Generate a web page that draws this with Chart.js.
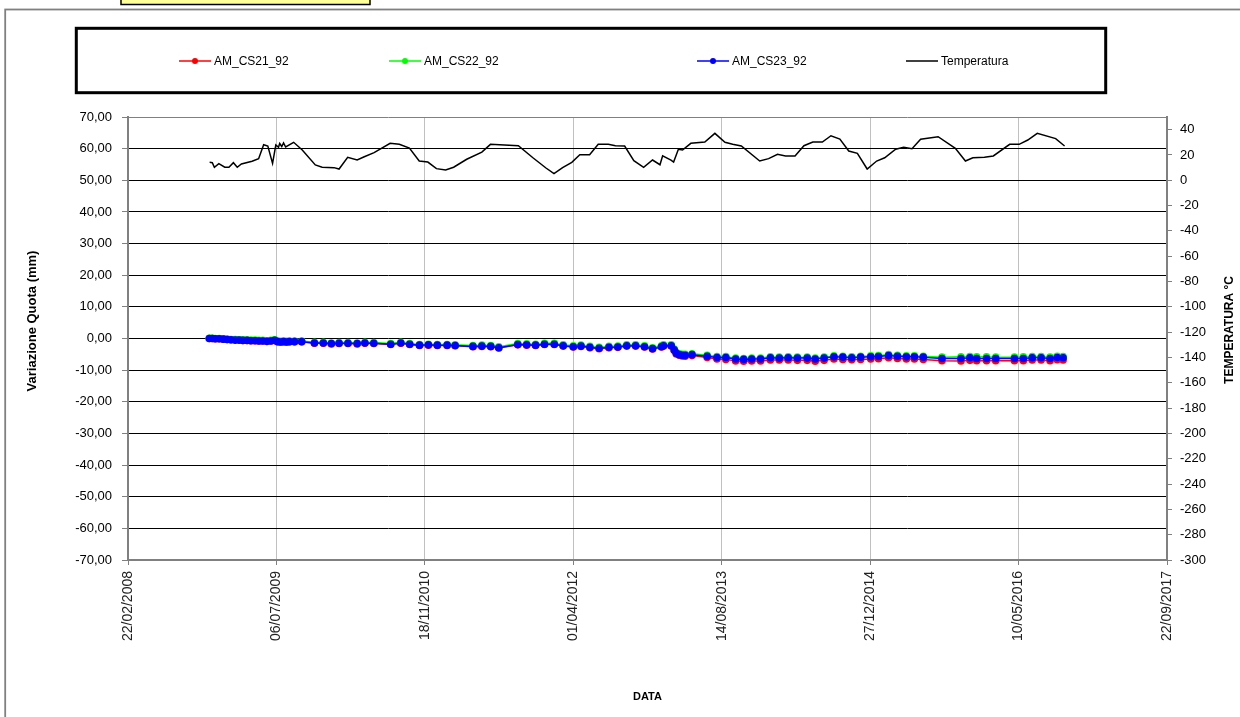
<!DOCTYPE html>
<html>
<head>
<meta charset="utf-8">
<script src="https://cdn.jsdelivr.net/npm/chart.js@4.4.1/dist/chart.umd.min.js"></script>
<style>
  html, body { margin: 0; padding: 0; background: #fff; overflow: hidden; }
  #wrap { width: 1240px; height: 717px; position: relative; }
</style>
</head>
<body>
<div id="wrap"><canvas id="chart"></canvas></div>
<script>
// dates are Excel serial days (39500 = 22/02/2008)
const surveyDays = [
  39774, 39784, 39794, 39807, 39821, 39834, 39847, 39861, 39874, 39887, 39901, 39914, 39928,
  39941, 39954, 39968, 39981, 39994, 40004, 40014, 40024, 40034, 40044, 40061, 40085,
  40128, 40158, 40185, 40211, 40241, 40272, 40298, 40328, 40385, 40419, 40449, 40482, 40512,
  40542, 40575, 40602, 40662, 40692, 40722, 40749, 40813, 40843, 40873, 40903, 40936, 40966,
  41000, 41026, 41056, 41087, 41120, 41150, 41180, 41210, 41240, 41267, 41297, 41304, 41330,
  41340, 41347, 41357, 41367, 41377, 41400, 41451, 41484, 41514, 41547, 41574, 41601, 41631,
  41664, 41694, 41724, 41755, 41788, 41815, 41845, 41878, 41908, 41938, 41968, 42002, 42028,
  42062, 42092, 42122, 42149, 42179, 42242, 42306, 42336, 42359, 42392, 42423, 42486, 42516,
  42546, 42576, 42606, 42630, 42650
];

const cs21 = [
  0, 0, -0.1, -0.1, -0.2, -0.3, -0.4, -0.5, -0.5, -0.6, -0.6, -0.7, -0.7, -0.8, -0.8, -0.9, -0.8,
  -0.6, -1.0, -1.1, -1.0, -1.1, -1.0, -1.0, -1.0,
  -1.5, -1.5, -1.7, -1.6, -1.6, -1.7, -1.5, -1.6, -1.9, -1.5, -1.9, -2.2, -2.1, -2.2, -2.2, -2.3,
  -2.6, -2.5, -2.6, -3.0, -2.0, -2.1, -2.2, -1.9, -1.9, -2.4, -2.7, -2.5, -2.9, -3.2,
  -2.9, -2.8, -2.4, -2.4, -2.7, -3.3, -2.7, -2.4, -2.4, -3.8, -4.9, -5.3, -5.5, -5.6, -5.4, -6.0,
  -6.5, -6.6, -7.1, -7.2, -7.1, -7.1, -6.8, -6.8, -6.8, -6.9, -6.9, -7.2, -6.9, -6.5,
  -6.6, -6.7, -6.6, -6.5, -6.4, -6.1, -6.3, -6.5, -6.5, -6.6, -7.0, -7.1, -6.9, -7.0, -7.0, -7.0,
  -7.0, -7.0, -6.8, -6.8, -7.0, -6.7, -6.8
];

const cs22 = [
  0.1, 0.1, 0, 0, -0.1, -0.2, -0.3, -0.3, -0.4, -0.4, -0.5, -0.5, -0.5, -0.6, -0.6, -0.7, -0.6,
  -0.4, -0.8, -0.9, -0.8, -0.9, -0.8, -0.8, -0.8,
  -1.2, -1.2, -1.4, -1.3, -1.3, -1.4, -1.2, -1.3, -1.6, -1.2, -1.6, -1.9, -1.8, -1.9, -1.9, -2.0,
  -2.2, -2.1, -2.2, -2.6, -1.6, -1.7, -1.8, -1.5, -1.5, -2.0, -2.3, -2.1, -2.5, -2.8,
  -2.5, -2.4, -2.0, -2.0, -2.3, -2.9, -2.3, -2.0, -2.0, -3.3, -4.4, -4.8, -5.0, -5.0, -4.8, -5.3,
  -5.7, -5.7, -6.2, -6.3, -6.2, -6.2, -5.8, -5.9, -5.8, -5.9, -5.9, -6.2, -5.9, -5.5,
  -5.6, -5.8, -5.6, -5.5, -5.4, -5.1, -5.3, -5.5, -5.5, -5.6, -5.9, -5.8, -5.7, -5.8, -5.8, -5.9,
  -5.9, -5.8, -5.7, -5.7, -5.9, -5.6, -5.7
];

const cs23 = [
  0, 0, -0.1, -0.1, -0.2, -0.3, -0.4, -0.5, -0.5, -0.6, -0.6, -0.7, -0.7, -0.8, -0.8, -0.9, -0.8,
  -0.6, -1.0, -1.1, -1.0, -1.1, -1.0, -1.0, -1.0,
  -1.4, -1.4, -1.6, -1.5, -1.5, -1.6, -1.4, -1.5, -1.8, -1.4, -1.8, -2.1, -2.0, -2.1, -2.1, -2.2,
  -2.5, -2.4, -2.5, -2.9, -1.9, -2.0, -2.1, -1.8, -1.8, -2.3, -2.6, -2.4, -2.8, -3.1,
  -2.8, -2.7, -2.3, -2.3, -2.6, -3.2, -2.6, -2.3, -2.3, -3.6, -4.7, -5.1, -5.3, -5.3, -5.1, -5.6,
  -6.0, -6.0, -6.5, -6.6, -6.5, -6.5, -6.1, -6.2, -6.1, -6.2, -6.2, -6.5, -6.2, -5.8,
  -5.9, -6.1, -5.9, -5.8, -5.7, -5.4, -5.6, -5.8, -5.8, -5.9, -6.3, -6.3, -6.1, -6.3, -6.3, -6.3,
  -6.3, -6.3, -6.1, -6.1, -6.3, -6.0, -6.1
];

const tempDays = [
  39775, 39784, 39791, 39806, 39826, 39840, 39855, 39868, 39882, 39918, 39940, 39957, 39971,
  39987, 39998, 40007, 40011, 40018, 40024, 40031, 40058, 40087, 40131, 40154, 40194, 40211,
  40240, 40272, 40296, 40329, 40383, 40414, 40448, 40481, 40510, 40539, 40570, 40597, 40641,
  40692, 40721, 40815, 40864, 40908, 40935, 40964, 40995, 41022, 41055, 41084, 41118, 41142,
  41173, 41204, 41237, 41267, 41292, 41301, 41329, 41338, 41354, 41368, 41396, 41443, 41477,
  41511, 41537, 41566, 41628, 41658, 41688, 41715, 41747, 41777, 41807, 41839, 41868, 41898,
  41928, 41957, 41990, 42022, 42049, 42086, 42113, 42141, 42170, 42229, 42287, 42321, 42346,
  42385, 42415, 42470, 42502, 42531, 42563, 42625, 42655
];

const tempValues = [
  14.2, 13.9, 10.3, 13.1, 10.3, 10.3, 13.9, 10.3, 12.9, 15.0, 17.1, 28.1, 27.1,
  13.4, 27.9, 26.1, 29.1, 26.7, 29.5, 26.3, 30.0, 23.9, 12.1, 10.3, 10.0, 8.9,
  18.2, 16.0, 18.6, 21.8, 29.2, 28.4, 25.5, 15.2, 14.4, 9.2, 8.1, 10.3, 16.6,
  22.3, 28.4, 27.3, 17.8, 9.7, 5.2, 10.0, 14.2, 20.2, 20.2, 28.4, 28.4, 27.3,
  27.1, 15.5, 10.3, 16.0, 12.3, 19.4, 16.0, 14.4, 24.5, 23.9, 29.2, 30.2, 37.1,
  30.0, 28.4, 27.1, 15.2, 17.1, 20.5, 19.2, 19.2, 27.3, 30.2, 30.2, 35.2, 32.6,
  23.1, 21.3, 8.9, 15.2, 17.8, 24.5, 26.1, 25.0, 32.4, 34.4, 25.3, 15.2, 17.8,
  18.2, 19.2, 28.4, 28.4, 31.8, 37.1, 32.9, 27.1
];

const seriesNames = ["AM_CS21_92", "AM_CS22_92", "AM_CS23_92", "Temperatura"];
const seriesColors = ["#ff0000", "#00ff00", "#0000ff", "#000000"];

const FONT = "'Liberation Sans', Arial, sans-serif";

function pairs(days, vals) {
  return days.map((d, i) => ({ x: d, y: vals[i] }));
}

function serialToDate(v) {
  const d = new Date(Date.UTC(1899, 11, 30) + Math.round(v) * 86400000);
  const dd = String(d.getUTCDate()).padStart(2, "0");
  const mm = String(d.getUTCMonth() + 1).padStart(2, "0");
  return dd + "/" + mm + "/" + d.getUTCFullYear();
}

function seriesDataset(i, vals, order) {
  return {
    label: seriesNames[i],
    data: pairs(surveyDays, vals),
    borderColor: seriesColors[i],
    backgroundColor: seriesColors[i],
    borderWidth: 1.5,
    pointRadius: 3.8,
    pointBorderWidth: 0,
    pointHoverRadius: 3.8,
    yAxisID: "y",
    order: order
  };
}

// legend box, frame and the yellow note box
const framePlugin = {
  id: "frame",
  beforeDraw(chart) {
    const ctx = chart.ctx;
    ctx.save();
    ctx.fillStyle = "#fff";
    ctx.fillRect(0, 0, chart.width, chart.height);

    ctx.strokeStyle = "#808080";
    ctx.lineWidth = 1.8;
    ctx.strokeRect(5.2, 9.5, chart.width + 20, chart.height + 20);

    ctx.fillStyle = "#ffff99";
    ctx.fillRect(120, -5, 250, 10);
    ctx.strokeStyle = "#000";
    ctx.lineWidth = 1.5;
    ctx.strokeRect(121, -5, 249, 9.5);

    ctx.fillStyle = "#fff";
    ctx.fillRect(76.3, 28.3, 1029.4, 64.4);
    ctx.lineWidth = 3;
    ctx.strokeRect(76.3, 28.3, 1029.4, 64.4);

    const starts = [179, 389, 697, 906];
    ctx.font = "12px " + FONT;
    ctx.textBaseline = "middle";
    chart.data.datasets.forEach((ds, i) => {
      const x0 = starts[i], y = 61;
      ctx.strokeStyle = ds.borderColor;
      ctx.lineWidth = 1.5;
      ctx.beginPath();
      ctx.moveTo(x0, y);
      ctx.lineTo(x0 + 32, y);
      ctx.stroke();
      if (ds.pointRadius > 0) {
        ctx.fillStyle = ds.borderColor;
        ctx.beginPath();
        ctx.arc(x0 + 16, y, 3, 0, Math.PI * 2);
        ctx.fill();
      }
      ctx.fillStyle = "#000";
      ctx.textAlign = "left";
      ctx.fillText(ds.label, x0 + 35, y + 1);
    });
    ctx.restore();
  },
  afterDraw(chart) {
    const ctx = chart.ctx;
    ctx.save();
    ctx.fillStyle = "#000";
    ctx.textAlign = "center";
    ctx.textBaseline = "middle";

    ctx.font = "bold 13px " + FONT;
    ctx.translate(32, 321);
    ctx.rotate(-Math.PI / 2);
    ctx.fillText("Variazione Quota (mm)", 0, 0);
    ctx.setTransform(1, 0, 0, 1, 0, 0);

    ctx.font = "bold 12px " + FONT;
    ctx.translate(1230, 330);
    ctx.rotate(-Math.PI / 2);
    ctx.fillText("TEMPERATURA °C", 0, 0);
    ctx.setTransform(1, 0, 0, 1, 0, 0);

    ctx.font = "bold 11px " + FONT;
    ctx.fillText("DATA", (chart.chartArea.left + chart.chartArea.right) / 2, 697);
    ctx.restore();
  }
};

new Chart(document.getElementById("chart"), {
  type: "line",
  data: {
    datasets: [
      seriesDataset(0, cs21, 4),
      seriesDataset(1, cs22, 3),
      seriesDataset(2, cs23, 2),
      {
        label: seriesNames[3],
        data: pairs(tempDays, tempValues),
        borderColor: seriesColors[3],
        backgroundColor: seriesColors[3],
        borderWidth: 1.5,
        pointRadius: 0,
        yAxisID: "y2",
        order: 1
      }
    ]
  },
  options: {
    responsive: true,
    maintainAspectRatio: false,
    animation: false,
    events: [],
    layout: { padding: { top: 117, left: 0, right: 0, bottom: 0 } },
    plugins: { legend: { display: false }, tooltip: { enabled: false } },
    elements: { line: { tension: 0 } },
    scales: {
      x: {
        type: "linear",
        min: 39500,
        max: 43000,
        afterFit: s => { s.height = 157; },
        ticks: {
          stepSize: 500,
          autoSkip: false,
          maxRotation: 90,
          minRotation: 90,
          padding: 6,
          color: "#222",
          font: { family: FONT, size: 14 },
          callback: v => serialToDate(v)
        },
        grid: { color: "#c0c0c0", lineWidth: 1, tickLength: 5, tickColor: "#808080" },
        border: { color: "#808080", width: 2 }
      },
      y: {
        position: "left",
        min: -70,
        max: 70,
        afterFit: s => { s.width = 128; },
        ticks: {
          stepSize: 10,
          padding: 10,
          color: "#000",
          font: { family: FONT, size: 13 },
          callback: v => v.toFixed(2).replace(".", ",")
        },
        grid: {
          color: c => (c.tick && c.tick.value === 70 ? "#808080" : "#000"),
          lineWidth: 1,
          tickLength: 6,
          tickColor: "#808080"
        },
        border: { color: "#808080", width: 2 }
      },
      y2: {
        position: "right",
        min: -300,
        max: 50,
        afterFit: s => { s.width = 73; },
        ticks: {
          stepSize: 20,
          includeBounds: false,
          padding: 8,
          color: "#000",
          font: { family: FONT, size: 13 }
        },
        grid: { drawOnChartArea: false, tickLength: 5, tickColor: "#808080" },
        border: { color: "#808080", width: 2 }
      }
    }
  },
  plugins: [framePlugin]
});
</script>
</body>
</html>
